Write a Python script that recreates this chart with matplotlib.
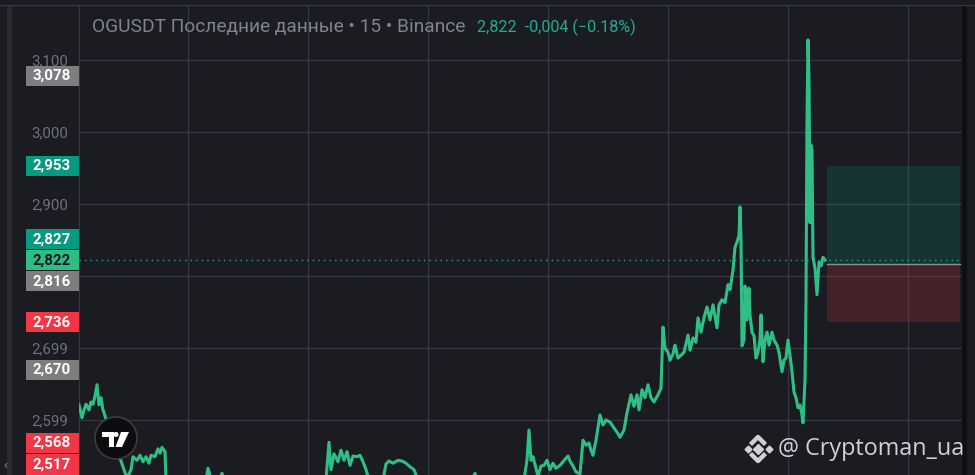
import matplotlib.pyplot as plt
from matplotlib.patches import Rectangle, Circle, Polygon
from matplotlib.lines import Line2D

# ---------------------------------------------------------------------
# data (15m bars, price in USDT)
# ---------------------------------------------------------------------
bars = [0, 3, 5, 7, 10, 12, 14, 16, 18, 20, 22, 24, 26, 31, 36, 41, 45, 48, 52, 54,
        58, 61, 64, 67, 70, 72, 76, 79, 81, 83, 86, 87, 91, 101, 116, 126, 129, 132, 137, 143,
        146, 161, 181, 201, 221, 236, 247, 250, 252, 255, 259, 262, 265, 268, 271, 274, 278, 281, 284, 287,
        290, 296, 304, 307, 310, 314, 319, 323, 327, 331, 335, 339, 351, 371, 391, 396, 400, 416, 436, 445,
        448, 450, 452, 454, 457, 459, 462, 465, 468, 471, 474, 477, 481, 484, 489, 491, 494, 497, 501, 504,
        507, 510, 512, 514, 517, 521, 524, 527, 531, 535, 538, 541, 545, 548, 552, 555, 558, 560, 563, 566,
        569, 572, 575, 579, 582, 584, 586, 589, 591, 594, 596, 599, 602, 605, 609, 611, 614, 617, 619, 622,
        625, 628, 631, 634, 638, 640, 643, 646, 649, 651, 654, 656, 658, 660, 661, 662, 663, 665, 666, 668,
        670, 671, 673, 675, 677, 679, 681, 682, 684, 686, 688, 690, 693, 695, 698, 700, 703, 705, 707, 709,
        711, 713, 715, 717, 719, 721, 723, 724, 726, 727, 728, 729, 730, 731, 732, 733, 734, 736, 738, 740,
        742, 744, 746]
close = [2.621, 2.603, 2.614, 2.622, 2.614, 2.625, 2.622, 2.633, 2.649, 2.621, 2.631, 2.614, 2.606, 2.579, 2.558, 2.547, 2.531, 2.519, 2.531, 2.549,
         2.544, 2.551, 2.542, 2.549, 2.540, 2.551, 2.549, 2.560, 2.554, 2.562, 2.556, 2.517, 2.489, 2.496, 2.492, 2.510, 2.533, 2.519, 2.503, 2.526,
         2.506, 2.489, 2.496, 2.482, 2.494, 2.503, 2.517, 2.569, 2.531, 2.553, 2.542, 2.558, 2.544, 2.556, 2.537, 2.550, 2.549, 2.551, 2.542, 2.531,
         2.517, 2.496, 2.517, 2.539, 2.543, 2.540, 2.544, 2.543, 2.540, 2.535, 2.531, 2.517, 2.496, 2.489, 2.510, 2.526, 2.506, 2.489, 2.503, 2.517,
         2.544, 2.586, 2.544, 2.549, 2.533, 2.522, 2.536, 2.537, 2.544, 2.531, 2.540, 2.533, 2.537, 2.542, 2.550, 2.543, 2.536, 2.528, 2.525, 2.572,
         2.565, 2.568, 2.558, 2.551, 2.572, 2.607, 2.593, 2.600, 2.597, 2.589, 2.583, 2.576, 2.586, 2.610, 2.635, 2.619, 2.635, 2.614, 2.642, 2.631,
         2.649, 2.631, 2.625, 2.635, 2.644, 2.729, 2.700, 2.694, 2.683, 2.692, 2.704, 2.686, 2.690, 2.694, 2.718, 2.697, 2.714, 2.708, 2.742, 2.722,
         2.742, 2.757, 2.739, 2.760, 2.728, 2.760, 2.767, 2.763, 2.788, 2.781, 2.808, 2.840, 2.847, 2.856, 2.896, 2.850, 2.703, 2.711, 2.786, 2.739,
         2.783, 2.746, 2.722, 2.717, 2.686, 2.694, 2.711, 2.746, 2.681, 2.711, 2.722, 2.704, 2.722, 2.711, 2.704, 2.694, 2.667, 2.683, 2.686, 2.711,
         2.690, 2.667, 2.639, 2.631, 2.617, 2.621, 2.607, 2.596, 2.656, 2.767, 3.017, 3.128, 3.072, 2.874, 2.982, 2.975, 2.826, 2.811, 2.774, 2.819,
         2.814, 2.826, 2.822]

last_price = 2.822
change_text = "-0,004 (\u22120.18%)"

# long position tool
pos_start, pos_end = 748, 881
take_profit, entry, stop_loss = 2.953, 2.816, 2.736

# price scale (the 2,800 label sits under the 2,816 tag, so it is blank)
y_lo, y_hi = 2.5236, 3.1764
ytick_vals = [3.100, 3.000, 2.900, 2.800, 2.700, 2.600]
ytick_labels = ["3,100", "3,000", "2,900", "", "2,699", "2,599"]
xgrid = [109, 229, 349, 469, 589, 709, 829]

# coloured labels on the price scale (sorted high -> low)
label_prices = [3.078, 2.953, 2.827, 2.822, 2.816, 2.736, 2.670, 2.568, 2.517]
label_kinds = ["gray", "teal", "teal", "last", "gray", "red", "gray", "red", "red"]

# ---------------------------------------------------------------------
BG = "#1b1c22"
GRID = "#343742"
LINE = "#2fbf86"
KIND_FACE = {"gray": "#7e7e7e", "teal": "#089981", "last": "#2ebd85", "red": "#f23645"}
KIND_TEXT = {"gray": "white", "teal": "white", "last": "#131722", "red": "white"}

plt.rcParams["font.family"] = ["Roboto", "DejaVu Sans"]

fig = plt.figure(figsize=(9.75, 4.75), dpi=100, facecolor=BG)
ax = fig.add_axes([79 / 975, 0, 883 / 975, 470 / 475])
ax.set_facecolor(BG)
ax.set_xlim(0, 883)
ax.set_ylim(y_lo, y_hi)
ax.set_xticks(xgrid)
ax.set_yticks(ytick_vals)
ax.set_yticklabels(ytick_labels)
ax.tick_params(axis="x", length=0, labelbottom=False)
ax.tick_params(axis="y", length=0, pad=8, labelsize=10.8, labelcolor="#6d707b")
ax.grid(True, color=GRID, linewidth=0.9)
ax.set_axisbelow(True)
for side in ["top", "right", "bottom"]:
    ax.spines[side].set_visible(False)
ax.spines["left"].set_color(GRID)

# price line
ax.plot(bars, close, color=LINE, linewidth=2.2, solid_joinstyle="round", zorder=3)

# position tool
ax.add_patch(Rectangle((pos_start, entry), pos_end - pos_start, take_profit - entry,
                       facecolor="#089981", alpha=0.2, edgecolor="none", zorder=2))
ax.add_patch(Rectangle((pos_start, stop_loss), pos_end - pos_start, entry - stop_loss,
                       facecolor="#f23645", alpha=0.2, edgecolor="none", zorder=2))
ax.plot([pos_start, pos_end], [entry, entry], color="#8e9099", linewidth=1, zorder=2)

# last price dotted line
ax.axhline(last_price, color="#26a69a", linewidth=1, linestyle=(0, (1, 3)), zorder=4)

# price scale labels, pushed apart like the terminal does
LABEL_H = 0.0292
shown = list(label_prices)
i_last = label_prices.index(last_price)
for i in range(i_last - 1, -1, -1):
    shown[i] = max(shown[i], shown[i + 1] + LABEL_H)
for i in range(i_last + 1, len(shown)):
    shown[i] = min(shown[i], shown[i - 1] - LABEL_H)
shown[-1] = max(shown[-1], y_lo + LABEL_H / 2)
for i in range(len(shown) - 2, -1, -1):
    shown[i] = max(shown[i], shown[i + 1] + LABEL_H)

ytrans = ax.get_yaxis_transform()
box_w = 53 / 883
for p, y, kind in zip(label_prices, shown, label_kinds):
    ax.add_patch(Rectangle((-box_w, y - LABEL_H * 0.48), box_w, LABEL_H * 0.96,
                           transform=ytrans, facecolor=KIND_FACE[kind], edgecolor="none",
                           clip_on=False, zorder=10))
    ax.text(-box_w / 2 - 0.001, y, f"{p:.3f}".replace(".", ","), transform=ytrans,
            ha="center", va="center", fontsize=10.8, fontweight="bold",
            color=KIND_TEXT[kind], clip_on=False, zorder=11)

# frame pieces around the pane
fig.add_artist(Line2D([0, 1], [470 / 475] * 2, transform=fig.transFigure, color=GRID, linewidth=1))
fig.add_artist(Rectangle((7 / 975, 0), 5 / 975, 470 / 475, transform=fig.transFigure,
                         facecolor="#2a2b30", edgecolor="none"))
fig.add_artist(Rectangle((962 / 975, 0), 5 / 975, 470 / 475, transform=fig.transFigure,
                         facecolor="#0e0f12", edgecolor="none"))
fig.text(5 / 975, 1 - 466 / 475, "\u2039", color="#8a8d96", fontsize=9, ha="center", va="center")

# header
fig.text(92 / 975, 1 - 27 / 475, "OGUSDT \u041f\u043e\u0441\u043b\u0435\u0434\u043d\u0438\u0435 "
         "\u0434\u0430\u043d\u043d\u044b\u0435 \u2022 15 \u2022 Binance",
         color="#80838e", fontsize=13.8, ha="left", va="center")
fig.text(477 / 975, 1 - 27 / 475, f"{last_price:.3f}".replace(".", ",") + "  " + change_text,
         color="#22ab94", fontsize=11.6, ha="left", va="center")

# TradingView badge
px = fig.dpi_scale_trans
cx, cy = 1.16, (475 - 438) / 100
fig.add_artist(Circle((cx, cy), 0.21, transform=px, facecolor="#0d0d0f",
                      edgecolor="#3c3d43", linewidth=1.2))
fig.add_artist(Polygon([(cx - 0.135, cy + 0.06), (cx - 0.025, cy + 0.06), (cx - 0.025, cy - 0.09),
                        (cx - 0.075, cy - 0.09), (cx - 0.075, cy + 0.01), (cx - 0.135, cy + 0.01)],
                       transform=px, facecolor="white", edgecolor="none"))
fig.add_artist(Circle((cx, cy + 0.035), 0.025, transform=px, facecolor="white", edgecolor="none"))
fig.add_artist(Polygon([(cx + 0.05, cy + 0.06), (cx + 0.13, cy + 0.06), (cx + 0.06, cy - 0.09),
                        (cx - 0.005, cy - 0.09)],
                       transform=px, facecolor="white", edgecolor="none"))

# watermark: Binance mark + handle
bx, by = 7.58, (475 - 449) / 100
fig.add_artist(Line2D([bx], [by], transform=px, marker="D", markersize=5,
                      color="#cfd1d6", linestyle="none"))
for dx in (-0.105, 0.105):
    fig.add_artist(Line2D([bx + dx], [by], transform=px, marker="D", markersize=3.5,
                          color="#cfd1d6", linestyle="none"))
for sgn in (1, -1):
    fig.add_artist(Line2D([bx - 0.075, bx, bx + 0.075], [by + sgn * 0.045, by + sgn * 0.12, by + sgn * 0.045],
                          transform=px, color="#cfd1d6", linewidth=3.2, solid_capstyle="butt"))
fig.text(778 / 975, 1 - 449 / 475, "@ Cryptoman_ua", family="Open Sans",
         color="#cfd1d6", fontsize=16.8, ha="left", va="center")

fig.savefig("out.png", dpi=100, facecolor=BG)
